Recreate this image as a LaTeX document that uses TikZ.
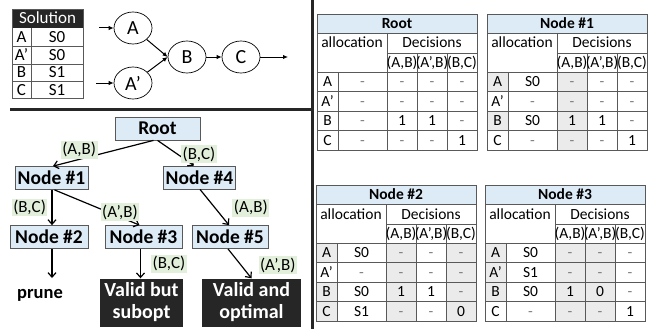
\documentclass[tikz,border=0pt]{standalone}
\usepackage{fontspec}
\setmainfont{Carlito}
\usetikzlibrary{arrows.meta, shapes.geometric}
\definecolor{hdrblue}{HTML}{DDEBF7}
\definecolor{lblgreen}{HTML}{E2EFDA}
\definecolor{boxdark}{HTML}{262626}
\definecolor{cellgray}{HTML}{EBEBEB}
\definecolor{gridgray}{HTML}{595959}
\newcommand{\na}{\textcolor{gray}{-}}

\begin{document}
\begin{tikzpicture}[x=1pt, y=-1pt,
    tline/.style={gridgray, line width=0.8pt},
    cell/.style={font=\fontsize{15.5}{18}\selectfont, inner sep=0pt, text height=12pt, text depth=2pt},
    solcell/.style={cell, font=\fontsize{17}{20}\selectfont},
    hdr/.style={cell, font=\bfseries\fontsize{15.5}{18}\selectfont},
    stnode/.style={ellipse, draw, line width=0.7pt, minimum width=38pt, minimum height=32pt, inner sep=0pt, font=\fontsize{20}{24}\selectfont},
    flow/.style={-{Latex[length=5pt, width=4.5pt]}, line width=1pt},
    tnode/.style={draw=gridgray, line width=0.8pt, fill=hdrblue, font=\bfseries\fontsize{19.5}{22}\selectfont, inner sep=0pt, minimum height=23pt},
    lbl/.style={fill=lblgreen, font=\fontsize{17}{19}\selectfont, inner sep=1.5pt},
    result/.style={fill=boxdark, text=white, font=\bfseries\fontsize{20}{22}\selectfont, align=center, minimum height=48pt},
    branch/.style={-{Straight Barb[length=4.5pt, width=8pt]}, line width=1.2pt}]
    \useasboundingbox (0,0) rectangle (652,329);
    % Separators
    \draw[boxdark, line width=3.5pt] (312.5,0) -- (312.5,329);
    \draw[boxdark, line width=3.5pt] (10,109.5) -- (312.5,109.5);
    % Solution table
    \fill[boxdark] (12,9) rectangle (83,28);
    \node[solcell, text=white] (solhead) at (47.5,18.5) {Solution};
    \draw[tline] (12,9) rectangle (83,98);
    \foreach \yy in {46.5,64,81} \draw[tline] (12,\yy) -- (83,\yy);
    \draw[tline] (31,28) -- (31,98);
    \foreach \lab/\val [count=\i from 0] in {A/S0, A'/S0, B/S1, C/S1} {
        \node[solcell] (solk\i) at (21.5,37.5+17.5*\i) {\lab};
        \node[solcell] (solv\i) at (57,37.5+17.5*\i) {\val};
    }
    % Task graph
    \node[stnode] (A) at (133,28) {A};
    \node[stnode] (Ap) at (133,83) {A'};
    \node[stnode] (B) at (187,57) {B};
    \node[stnode] (C) at (241,57) {C};
    \coordinate (inA) at (99,28);
    \coordinate (inAp) at (96,83);
    \coordinate (outC) at (288,57);
    \draw[flow] (inA) -- (A);
    \draw[flow] (inAp) -- (Ap);
    \draw[flow] (A) -- (B.west);
    \draw[flow] (Ap) -- (B.west);
    \draw[flow] (B) -- (C);
    \draw[flow] (C) -- (outC);
    % Search tree
    \node[tnode, minimum width=85pt] (root) at (157.5,128.5) {Root};
    \node[tnode, minimum width=73pt] (n1) at (51.5,178) {Node \#1};
    \node[tnode, minimum width=72pt] (n4) at (199.5,177.5) {Node \#4};
    \node[tnode, minimum width=78pt] (n2) at (49,237) {Node \#2};
    \node[tnode, minimum width=77pt] (n3) at (143.5,237) {Node \#3};
    \node[tnode, minimum width=76pt] (n5) at (230,237) {Node \#5};
    \node[font=\bfseries\fontsize{18.5}{20}\selectfont, inner sep=0pt] (prune) at (40,295) {prune};
    \node[result, minimum width=83pt] (subopt) at (141.5,302.5) {Valid but\\subopt};
    \node[result, minimum width=99pt] (optimal) at (251.5,302.5) {Valid and\\optimal};
    \coordinate (pruneend) at (52,278);
    \draw[branch] ([xshift=-4pt]root.south) -- ([xshift=1.5pt]n1.north) node[lbl, pos=0.74, above] {(A,B)};
    \draw[branch] (root.south) -- ([xshift=-5.5pt]n4.north) node[lbl, pos=0.7, xshift=16pt, yshift=4pt] {(B,C)};
    \draw[branch] ([xshift=0.5pt]n1.south) -- ([xshift=0.5pt]n1.south |- n2.north) node[lbl, midway, left, xshift=-4pt] {(B,C)};
    \draw[branch] ([xshift=3pt]n1.south) -- ([xshift=-4pt]n3.north) node[lbl, pos=0.77, yshift=5pt] {(A',B)};
    \draw[branch] ([xshift=0.5pt]n4.south) -- ([xshift=-1pt]n5.north) node[lbl, pos=0.51, right, xshift=17pt] {(A,B)};
    \draw[branch] (n2.south -| pruneend) -- (pruneend);
    \draw[branch] ([xshift=-3pt]n3.south) -- ([xshift=-3pt]n3.south |- subopt.north) node[lbl, midway, right, xshift=10pt] {(B,C)};
    \draw[branch] ([xshift=-2pt]n5.south) -- (optimal.north) node[lbl, pos=0.55, right, xshift=17pt] {(A',B)};
    % Shaded cells of the decision tables
    \foreach \tx/\ty/\i in {487/14/0, 487/14/2, 316/185/0, 316/185/2, 316/185/3, 485/185/0, 485/185/1, 485/185/2}
        \fill[cellgray] (\tx,\ty+58+19.5*\i) rectangle ++(21,19.5);
    \foreach \tx/\ty/\j in {487/14/0, 316/185/0, 316/185/2, 485/185/0, 485/185/1}
        \fill[cellgray] (\tx+70+30*\j,\ty+58) rectangle ++(30,78);
    % Decision tables
    \foreach \tx/\ty/\ttl/\tid/\tdata in {
        317/14/Root/t0/{\na,\na,\na,\na,\na,\na,\na,\na,\na,1,1,\na,\na,\na,\na,1},
        487/14/{Node \#1}/t1/{S0,\na,\na,\na,\na,\na,\na,\na,S0,1,1,\na,\na,\na,\na,1},
        316/185/{Node \#2}/t2/{S0,\na,\na,\na,\na,\na,\na,\na,S0,1,1,\na,S1,\na,\na,0},
        485/185/{Node \#3}/t3/{S0,\na,\na,\na,S1,\na,\na,\na,S0,1,0,\na,\na,\na,\na,1}} {
        \fill[hdrblue] (\tx,\ty) rectangle ++(160,19);
        \draw[tline] (\tx,\ty) rectangle ++(160,136);
        \draw[tline] (\tx,\ty+19) -- ++(160,0);
        \draw[tline] (\tx+70,\ty+39) -- ++(90,0);
        \foreach \yy in {58,77.5,97,116.5} \draw[tline] (\tx,\ty+\yy) -- ++(160,0);
        \draw[tline] (\tx+21,\ty+58) -- ++(0,78);
        \draw[tline] (\tx+70,\ty+19) -- ++(0,117);
        \foreach \xx in {100,130} \draw[tline] (\tx+\xx,\ty+39) -- ++(0,97);
        \node[hdr] (\tid-title) at (\tx+80,\ty+9.5) {\ttl};
        \node[cell] (\tid-alloc) at (\tx+35,\ty+29) {allocation};
        \node[cell] (\tid-dec) at (\tx+115,\ty+29) {Decisions};
        \foreach \d [count=\j from 0] in {{(A,B)},{(A',B)},{(B,C)}}
            \node[cell] (\tid-d\j) at (\tx+85+30*\j,\ty+48.5) {\d};
        \foreach \rowlab [count=\i from 0] in {A,A',B,C}
            \node[cell] (\tid-r\i) at (\tx+10.5,\ty+67.75+19.5*\i) {\rowlab};
        \foreach \v [count=\k from 0] in \tdata {
            \pgfmathtruncatemacro\rr{div(\k,4)}
            \pgfmathtruncatemacro\cc{mod(\k,4)}
            \pgfmathsetmacro\cx{\cc==0 ? 45.5 : 55+30*\cc}
            \node[cell] (\tid-v\k) at (\tx+\cx,\ty+67.75+19.5*\rr) {\v};
        }
    }
\end{tikzpicture}
\end{document}
